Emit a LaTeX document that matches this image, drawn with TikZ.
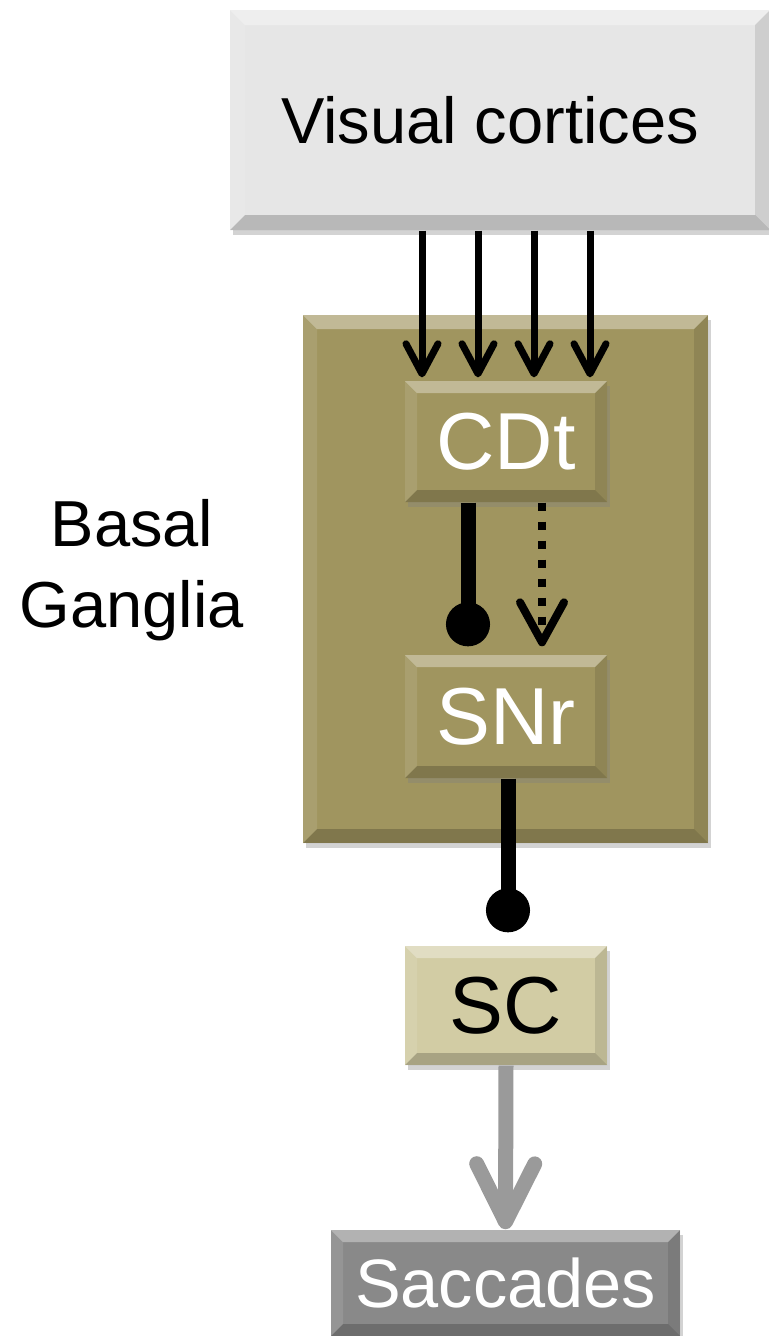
\documentclass[tikz,border=0pt]{standalone}
\usepackage{fontspec}
\setmainfont{Liberation Sans}
\usetikzlibrary{arrows.meta, positioning, shadows}

\definecolor{bgolive}{HTML}{A0955F}
\definecolor{scbeige}{HTML}{D2CCA4}
\definecolor{cortexgray}{HTML}{E6E6E6}
\definecolor{outgray}{HTML}{898989}
\definecolor{arrowgray}{HTML}{9A9A9A}

\begin{document}
\begin{tikzpicture}[
      bevel/.style={path picture={
          \fill[white, opacity=0.35]
            (path picture bounding box.north west) -- (path picture bounding box.north east)
            -- ++(-#1,-#1) -- ([shift={(#1,-#1)}]path picture bounding box.north west) -- cycle;
          \fill[black, opacity=0.20]
            (path picture bounding box.south west) -- (path picture bounding box.south east)
            -- ++(-#1,#1) -- ([shift={(#1,#1)}]path picture bounding box.south west) -- cycle;
          \fill[black, opacity=0.10]
            (path picture bounding box.north east) -- (path picture bounding box.south east)
            -- ++(-#1,#1) -- ([shift={(-#1,-#1)}]path picture bounding box.north east) -- cycle;
          \fill[white, opacity=0.10]
            (path picture bounding box.north west) -- (path picture bounding box.south west)
            -- ++(#1,#1) -- ([shift={(#1,-#1)}]path picture bounding box.north west) -- cycle;
        }},
      bevel/.default=0.12cm,
      box/.style={bevel, inner sep=0pt, align=center,
                  drop shadow={opacity=0.35, shadow xshift=0.03cm, shadow yshift=-0.05cm}},
      region/.style={box, fill=bgolive, bevel=0.14cm},
      nucleus/.style={box, fill=bgolive, minimum width=2.02cm, text=white,
                      font=\fontsize{23}{27}\selectfont},
      fwd/.style={line width=0.07cm, -{Straight Barb[length=0.30cm, width=0.32cm, round]}},
      inh/.style={line width=0.15cm, -{Circle[length=0.44cm]}},
      dsh/.style={line width=0.08cm, dash pattern=on 0.08cm off 0.11cm,
                  -{Straight Barb[length=0.40cm, width=0.44cm, round]}},
      motor/.style={line width=0.15cm, arrowgray,
                    -{Straight Barb[length=0.58cm, width=0.58cm, round]}},
      lbl/.style={font=\fontsize{18.5}{23}\selectfont, align=center}
    ]
      \useasboundingbox (0,0) rectangle (7.69,-13.36);

      % boxes
      \node[box, fill=cortexgray, minimum width=5.40cm, minimum height=2.20cm,
            bevel=0.15cm, font=\fontsize{18.5}{23}\selectfont] (vis) at (5.00,-1.20)
            {\hspace*{-0.2cm}Visual cortices};
      \node[region, minimum width=4.05cm, minimum height=5.28cm] (bg) at (5.055,-5.79) {};
      \node[nucleus, minimum height=1.21cm] (cdt) at (5.06,-4.415) {CDt};
      \node[nucleus, minimum height=1.23cm] (snr) at (5.06,-7.165) {SNr};
      \node[box, fill=scbeige, minimum width=2.02cm, minimum height=1.19cm,
            font=\fontsize{23}{27}\selectfont] (sc) at (5.06,-10.055) {SC};
      \node[box, fill=outgray, minimum width=3.49cm, minimum height=1.06cm, text=white,
            font=\fontsize{19.5}{24}\selectfont] (sac) at (5.055,-12.83) {Saccades};

      \node[lbl] (bglabel) at (1.32,-5.70) {Basal\\Ganglia};

      % connections
      \foreach \dx in {-0.84,-0.28,0.28,0.84}
        \draw[fwd, shorten >=0.03cm] ([xshift=\dx cm]cdt.north |- vis.south) -- ([xshift=\dx cm]cdt.north);
      \draw[inh, shorten >=0.08cm] ([xshift=-0.38cm]cdt.south) -- ([xshift=-0.38cm]snr.north);
      \draw[dsh, shorten >=0.08cm] ([xshift=0.36cm]cdt.south) -- ([xshift=0.36cm]snr.north);
      \draw[inh, shorten >=0.13cm] ([xshift=0.02cm]snr.south) -- ([xshift=0.02cm]sc.north);
      \draw[motor] (sc.south) -- (sac.north);
    \end{tikzpicture}
\end{document}
